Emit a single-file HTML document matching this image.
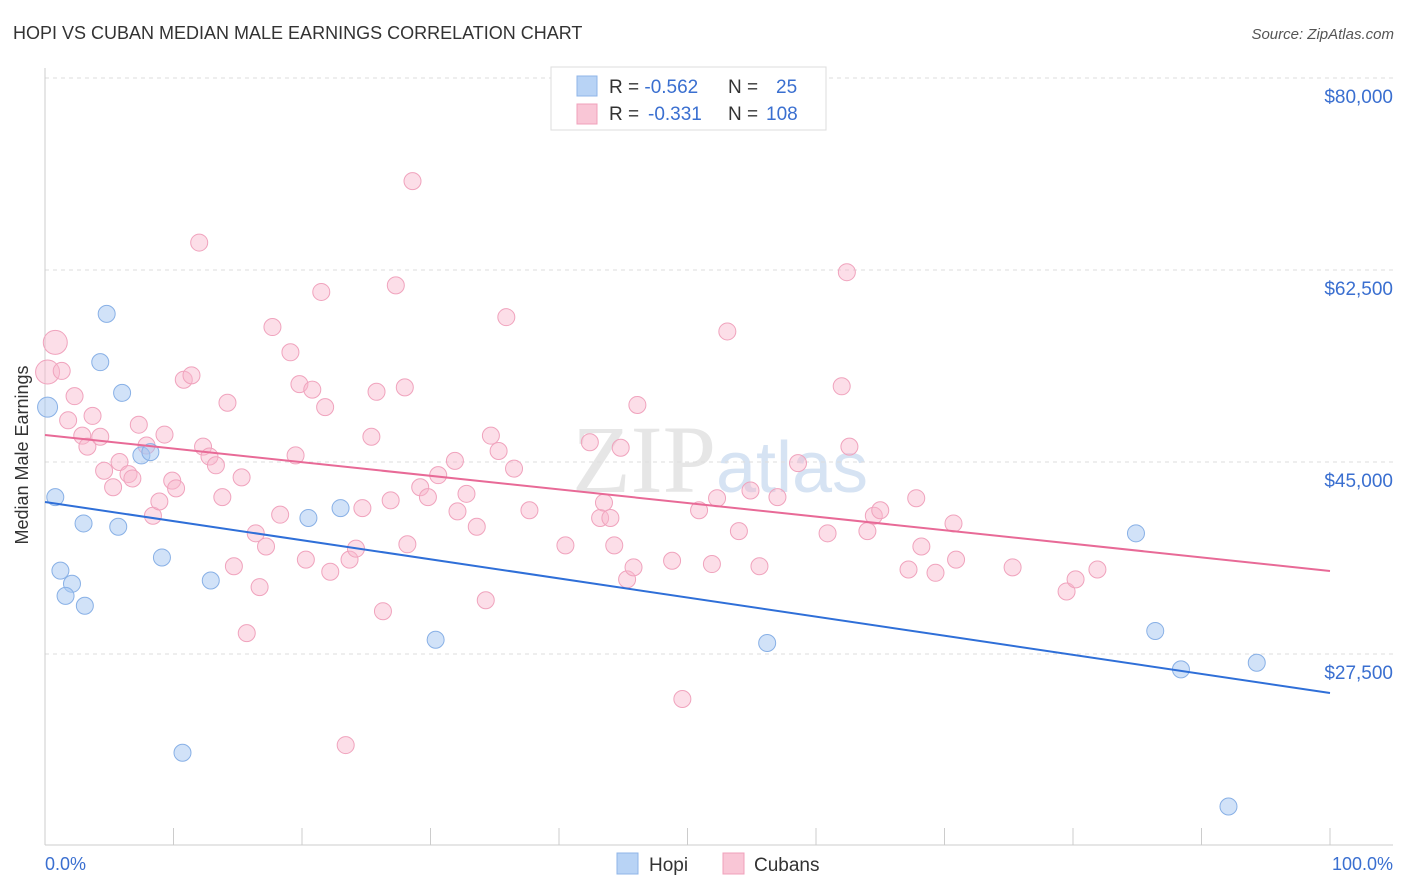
<!DOCTYPE html>
<html><head><meta charset="utf-8"><style>
body{margin:0;background:#fff;font-family:"Liberation Sans",sans-serif;}
svg{display:block}
</style></head><body>
<svg id="chart" width="1406" height="892" viewBox="0 0 1406 892">
<text x="13" y="39" font-size="18" fill="#333">HOPI VS CUBAN MEDIAN MALE EARNINGS CORRELATION CHART</text>
<text x="1394" y="39" font-size="15" fill="#555" font-style="italic" text-anchor="end">Source: ZipAtlas.com</text>
<text x="720" y="492" font-size="96" fill="#e6e6e6" text-anchor="middle" font-family="Liberation Serif,serif">ZIP<tspan fill="#d6e3f3" font-family="Liberation Sans,sans-serif" font-size="72">atlas</tspan></text>
<g id="grid"></g>
<line x1="45" y1="68" x2="45" y2="845" stroke="#ccc"/>
<line x1="45" y1="845" x2="1393" y2="845" stroke="#ccc"/>
<g id="xticks"></g>
<text x="28" y="455" font-size="18" fill="#333" text-anchor="middle" transform="rotate(-90 28 455)">Median Male Earnings</text>
<text x="45" y="870" font-size="18" fill="#3a6fd0">0.0%</text>
<text x="1393" y="870" font-size="18" fill="#3a6fd0" text-anchor="end">100.0%</text>
<g id="pts"></g>
<g id="lines"></g>
<g>
<rect x="551" y="67" width="275" height="63" fill="#fff" stroke="#ddd"/>
<rect x="577" y="76" width="20" height="20" fill="#b8d3f5" stroke="#8fb6e8"/>
<rect x="577" y="104" width="20" height="20" fill="#f9c6d6" stroke="#f0a0bb"/>
<text x="609" y="93" font-size="19" fill="#333">R = <tspan fill="#3a6fd0">-0.562</tspan><tspan x="728">N =</tspan><tspan x="776" fill="#3a6fd0">25</tspan></text>
<text x="609" y="120" font-size="19" fill="#333">R = <tspan x="648" fill="#3a6fd0">-0.331</tspan><tspan x="728">N =</tspan><tspan x="766" fill="#3a6fd0">108</tspan></text>
</g>
<rect x="617" y="853" width="21" height="21" fill="#b8d3f5" stroke="#8fb6e8"/>
<text x="649" y="871" font-size="19" fill="#333">Hopi</text>
<rect x="723" y="853" width="21" height="21" fill="#f9c6d6" stroke="#f0a0bb"/>
<text x="754" y="871" font-size="19" fill="#333">Cubans</text>
</svg>
<script>
const yTicks=[80000,62500,45000,27500];
const yTickLabels=["$80,000","$62,500","$45,000","$27,500"];
const xTickPcts=[0,10,20,30,40,50,60,70,80,90,100];
const hopiX=[0.2,0.8,4.8,4.3,6.0,7.5,8.2,3.0,5.7,1.2,2.1,1.6,3.1,9.1,12.9,20.5,23.0,30.4,10.7,56.2,84.9,86.4,88.4,94.3,92.1];
const hopiY=[50.0,41.8,58.5,54.1,51.3,45.6,45.9,39.4,39.1,35.1,33.9,32.8,31.9,36.3,34.2,39.9,40.8,28.8,18.5,28.5,38.5,29.6,26.1,26.7,13.6];
const cubX=[0.8,0.2,1.3,2.3,1.8,3.7,2.9,3.3,4.3,4.6,5.3,5.8,6.5,6.8,7.3,7.9,8.4,8.9,9.3,9.9,10.2,10.8,11.4,12.0,12.3,12.8,13.3,13.8,14.2,14.7,15.3,15.7,16.4,16.7,17.2,17.7,18.3,19.1,19.5,19.8,20.3,20.8,21.5,21.8,22.2,23.4,23.7,24.2,24.7,25.4,25.8,26.3,27.3,26.9,28.0,28.2,28.6,29.2,29.8,30.6,31.9,32.1,32.8,33.6,34.3,34.7,35.3,35.9,36.5,37.7,40.5,42.4,43.2,43.5,44.0,44.3,44.8,45.3,45.8,46.1,48.8,49.6,50.9,51.9,52.3,53.1,54.0,54.9,55.6,57.0,58.6,60.9,62.0,62.4,62.6,64.0,64.5,65.0,67.2,67.8,68.2,69.3,70.7,70.9,75.3,79.5,80.2,81.9];
const cubY=[55.9,53.2,53.3,51.0,48.8,49.2,47.4,46.4,47.3,44.2,42.7,45.0,43.9,43.5,48.4,46.5,40.1,41.4,47.5,43.3,42.6,52.5,52.9,65.0,46.4,45.5,44.7,41.8,50.4,35.5,43.6,29.4,38.5,33.6,37.3,57.3,40.2,55.0,45.6,52.1,36.1,51.6,60.5,50.0,35.0,19.2,36.1,37.1,40.8,47.3,51.4,31.4,61.1,41.5,51.8,37.5,70.6,42.7,41.8,43.8,45.1,40.5,42.1,39.1,32.4,47.4,46.0,58.2,44.4,40.6,37.4,46.8,39.9,41.3,39.9,37.4,46.3,34.3,35.4,50.2,36.0,23.4,40.6,35.7,41.7,56.9,38.7,42.4,35.5,41.8,44.9,38.5,51.9,62.3,46.4,38.7,40.1,40.6,35.2,41.7,37.3,34.9,39.4,36.1,35.4,33.2,34.3,35.2];
const hopiTrend=[41354,23945];
const cubTrend=[47461,35065];
const NS="http://www.w3.org/2000/svg";
const xs=p=>45+p*12.85;
const ys=v=>78+(80000-v)*192/17500;
function mk(tag,attrs,parent){const e=document.createElementNS(NS,tag);for(const k in attrs)e.setAttribute(k,attrs[k]);document.getElementById(parent).appendChild(e);return e;}
yTicks.forEach((v,i)=>{
  const l=mk('line',{x1:45,x2:1393,y1:ys(v),y2:ys(v),stroke:'#ddd','stroke-dasharray':'4,4'},'grid');
  
  
  const t=mk('text',{x:1393,y:ys(v)+25,'font-size':19,fill:'#3a6fd0','text-anchor':'end'},'grid');
  t.textContent=yTickLabels[i];
  
  
});
xTickPcts.forEach(p=>{
  const l=mk('line',{x1:xs(p),x2:xs(p),y1:828,y2:845,stroke:'#ccc'},'xticks');
  
  
});
cubX.forEach((x,i)=>{
  const big=i<2;
  const c=mk('circle',{cx:xs(x),cy:ys(cubY[i]*1000),r:big?12:8.5,fill:'rgba(248,182,204,0.45)',stroke:'#f0a3bd','stroke-width':1},'pts');
  
  
});
hopiX.forEach((x,i)=>{
  const c=mk('circle',{cx:xs(x),cy:ys(hopiY[i]*1000),r:i==0?10:8.5,fill:'rgba(164,198,242,0.5)',stroke:'#88b0e6','stroke-width':1},'pts');
  
  
});
const lb=mk('line',{x1:xs(0),x2:xs(100),y1:ys(hopiTrend[0]),y2:ys(hopiTrend[1]),stroke:'#2f6fd8','stroke-width':2},'lines');


const lp=mk('line',{x1:xs(0),x2:xs(100),y1:ys(cubTrend[0]),y2:ys(cubTrend[1]),stroke:'#e86a97','stroke-width':2},'lines');


</script>
</body></html>
